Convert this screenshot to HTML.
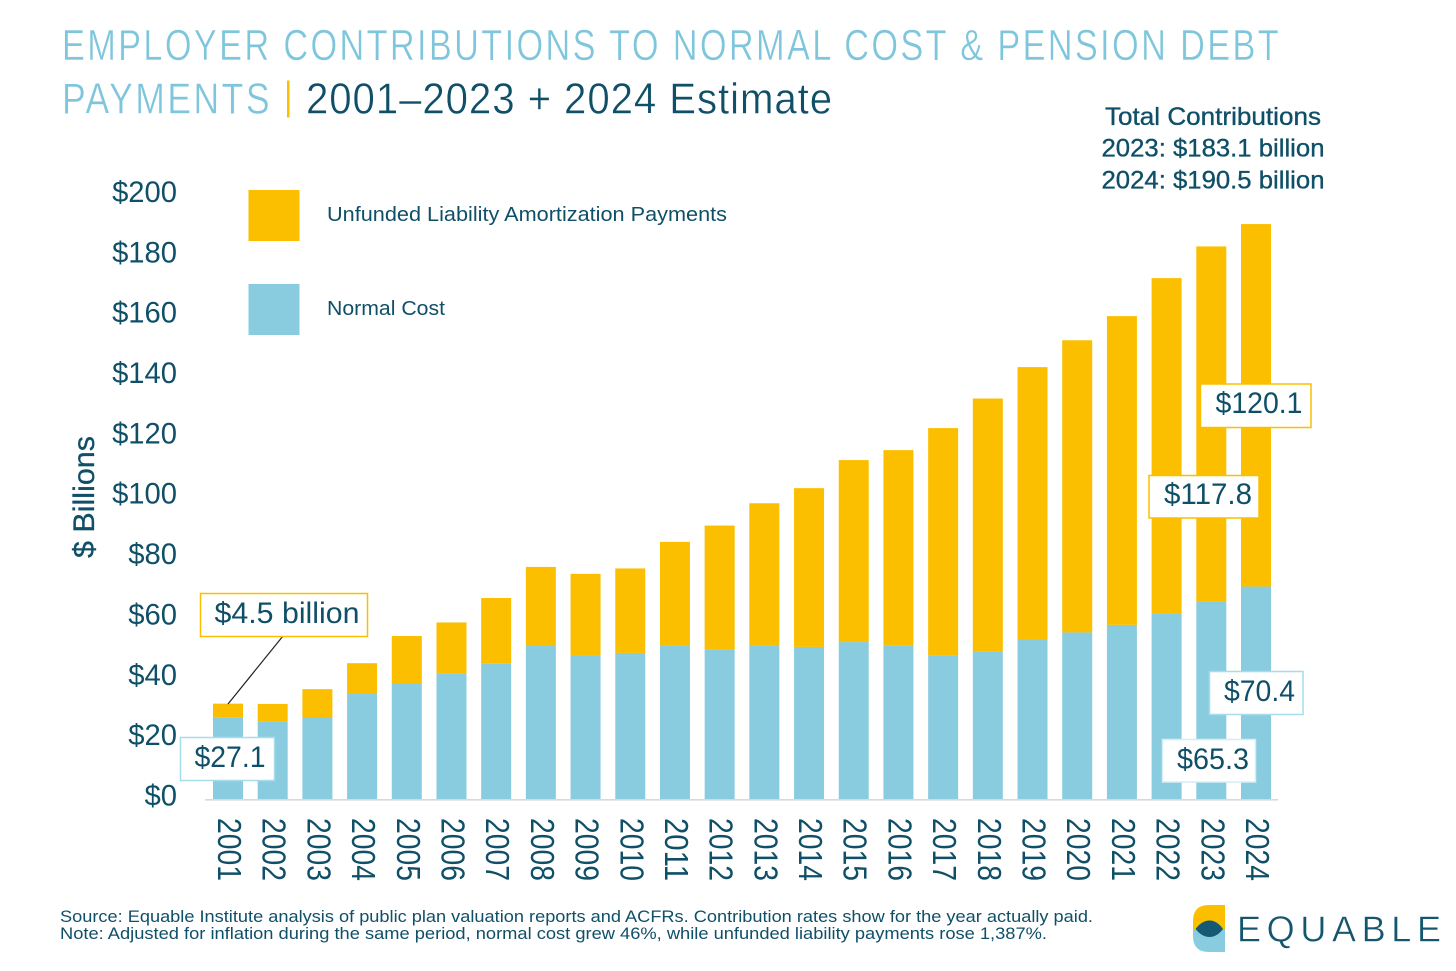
<!DOCTYPE html>
<html lang="en">
<head>
<meta charset="utf-8">
<title>Employer Contributions to Normal Cost and Pension Debt Payments</title>
<style>
html,body{margin:0;padding:0;background:#fff;}
svg{display:block;}
text{font-family:"Liberation Sans",sans-serif;fill:#0f4f68;}
.thin{stroke:#fff;stroke-width:.45;}
</style>
</head>
<body>
<svg id="chart" xmlns="http://www.w3.org/2000/svg" width="1456" height="971" viewBox="0 0 1456 971">
  <rect x="0" y="0" width="1456" height="971" fill="#ffffff"/>

  <g>
    <text class="thin" x="62" y="60" font-size="43.5" letter-spacing="3" textLength="1219" lengthAdjust="spacingAndGlyphs" style="fill:#7fc6dc">EMPLOYER CONTRIBUTIONS TO NORMAL COST &amp; PENSION DEBT</text>
    <text class="thin" x="62" y="113.5" font-size="43.5" letter-spacing="3" textLength="210" lengthAdjust="spacingAndGlyphs" style="fill:#7fc6dc">PAYMENTS</text>
    <rect x="287" y="80.5" width="2.5" height="37" fill="#fbbf00"/>
    <text class="thin" x="306" y="113.5" font-size="43.5" letter-spacing="1" textLength="527" lengthAdjust="spacingAndGlyphs">2001–2023 + 2024 Estimate</text>
  </g>

  <g text-anchor="middle" font-size="25" style="stroke:#0f4f68;stroke-width:.35">
    <text x="1213" y="125" textLength="216" lengthAdjust="spacingAndGlyphs">Total Contributions</text>
    <text x="1213" y="156.5" textLength="223" lengthAdjust="spacingAndGlyphs">2023: $183.1 billion</text>
    <text x="1213" y="188.5" textLength="223" lengthAdjust="spacingAndGlyphs">2024: $190.5 billion</text>
  </g>

  <g>
    <rect x="248.5" y="190" width="51" height="51" fill="#fbbf00"/>
    <text x="327" y="221" font-size="20.5" textLength="400" lengthAdjust="spacingAndGlyphs">Unfunded Liability Amortization Payments</text>
    <rect x="248.5" y="284" width="51" height="51" fill="#8accdf"/>
    <text x="327" y="315" font-size="20.5" textLength="118" lengthAdjust="spacingAndGlyphs">Normal Cost</text>
  </g>

  <text transform="translate(94,497) rotate(-90)" text-anchor="middle" font-size="30" textLength="122" lengthAdjust="spacingAndGlyphs" style="stroke:#0f4f68;stroke-width:.3">$ Billions</text>

  <g id="y-axis"></g>
  <g id="bars"></g>
  <rect x="205" y="799" width="1073" height="1.6" fill="#d9d9d9"/>
  <g id="x-axis"></g>

  <g font-size="30" text-anchor="middle">
    <line x1="283" y1="636" x2="228" y2="704" stroke="#222" stroke-width="1.2"/>
    <g>
      <rect x="200.5" y="593.5" width="167" height="43" fill="#fff" stroke="#fbbf00" stroke-width="1.5"/>
      <text x="287" y="623" textLength="145" lengthAdjust="spacingAndGlyphs">$4.5 billion</text>
    </g>
    <g>
      <rect x="180.5" y="737.5" width="94" height="43" fill="#fff" stroke="#a6dcec" stroke-width="1.5"/>
      <text x="230" y="767" textLength="71" lengthAdjust="spacingAndGlyphs">$27.1</text>
    </g>
    <g>
      <rect x="1200.5" y="384" width="110.5" height="43.5" fill="#fff" stroke="#fbbf00" stroke-width="1.5"/>
      <text x="1259" y="413" textLength="87" lengthAdjust="spacingAndGlyphs">$120.1</text>
    </g>
    <g>
      <rect x="1149" y="475.5" width="110" height="42.5" fill="#fff" stroke="#fbbf00" stroke-width="1.5"/>
      <text x="1208" y="504" textLength="88" lengthAdjust="spacingAndGlyphs">$117.8</text>
    </g>
    <g>
      <rect x="1209.5" y="671.5" width="93.5" height="43" fill="#fff" stroke="#a6dcec" stroke-width="1.5"/>
      <text x="1259.5" y="701" textLength="71" lengthAdjust="spacingAndGlyphs">$70.4</text>
    </g>
    <g>
      <rect x="1162.5" y="739.5" width="93" height="42.5" fill="#fff" stroke="#d5eef6" stroke-width="1.5"/>
      <text x="1213" y="769" textLength="72" lengthAdjust="spacingAndGlyphs">$65.3</text>
    </g>
  </g>

  <g font-size="17">
    <text x="60" y="922" textLength="1033" lengthAdjust="spacingAndGlyphs">Source: Equable Institute analysis of public plan valuation reports and ACFRs. Contribution rates show for the year actually paid.</text>
    <text x="60" y="939" textLength="987" lengthAdjust="spacingAndGlyphs">Note: Adjusted for inflation during the same period, normal cost grew 46%, while unfunded liability payments rose 1,387%.</text>
  </g>

  <g>
    <path d="M1225 905 V930 H1193 V921 Q1193 905 1209 905 Z" fill="#fbbf00"/>
    <path d="M1225 952 H1209 Q1193 952 1193 936 V929 H1225 Z" fill="#8accdf"/>
    <path d="M1195.5 929 Q1202 920.5 1209.5 920.5 Q1217 920.5 1223 929 Q1217 937 1209.5 937 Q1202 937 1195.5 929 Z" fill="#155a72"/>
    <text class="thin" x="1237" y="941.5" font-size="36" textLength="204" lengthAdjust="spacing" style="fill:#15566f">EQUABLE</text>
  </g>
</svg>

<script>
const years = ["2001","2002","2003","2004","2005","2006","2007","2008","2009","2010","2011","2012","2013","2014","2015","2016","2017","2018","2019","2020","2021","2022","2023","2024"];
const normalCost = [27.1,25.8,27.0,34.8,38.1,41.7,45.0,50.7,47.4,48.4,51.0,49.4,51.0,50.4,52.0,50.9,47.5,49.0,53.0,55.2,57.7,61.5,65.3,70.4];
const unfundedPayments = [4.5,5.7,9.4,10.2,15.9,16.8,21.6,26.2,27.2,28.0,34.2,41.2,47.0,52.6,60.3,64.7,75.4,83.7,90.1,96.8,102.3,111.1,117.8,120.1];
const yTickValues = [0,20,40,60,80,100,120,140,160,180,200];
const yTickLabels = ["$0","$20","$40","$60","$80","$100","$120","$140","$160","$180","$200"];

const SVG_NS = "http://www.w3.org/2000/svg";
const xCenter = function (i) { return 228 + i * (1256 - 228) / (years.length - 1); };
const yScale = function (v) { return 799 - v * 3.018; };
const barWidth = 30;

const barsGroup = document.getElementById("bars");
const yAxisGroup = document.getElementById("y-axis");
const xAxisGroup = document.getElementById("x-axis");

years.forEach(function (year, i) {
  const x = xCenter(i) - barWidth / 2;
  const n = normalCost[i];
  const u = unfundedPayments[i];

  const normalBar = document.createElementNS(SVG_NS, "rect");
  
  
  normalBar.setAttribute("x", x);
  normalBar.setAttribute("y", yScale(n));
  normalBar.setAttribute("width", barWidth);
  normalBar.setAttribute("height", yScale(0) - yScale(n));
  normalBar.setAttribute("fill", "#8accdf");
  barsGroup.appendChild(normalBar);

  const unfundedBar = document.createElementNS(SVG_NS, "rect");
  
  
  unfundedBar.setAttribute("x", x);
  unfundedBar.setAttribute("y", yScale(n + u));
  unfundedBar.setAttribute("width", barWidth);
  unfundedBar.setAttribute("height", yScale(n) - yScale(n + u));
  unfundedBar.setAttribute("fill", "#fbbf00");
  barsGroup.appendChild(unfundedBar);

  const yearLabel = document.createElementNS(SVG_NS, "text");
  
  
  yearLabel.setAttribute("transform", "translate(" + (xCenter(i) - 10) + ",818) rotate(90)");
  yearLabel.setAttribute("font-size", "33");
  yearLabel.setAttribute("textLength", "63");
  yearLabel.setAttribute("lengthAdjust", "spacingAndGlyphs");
  yearLabel.textContent = year;
  xAxisGroup.appendChild(yearLabel);
});

yTickValues.forEach(function (v, i) {
  const tick = document.createElementNS(SVG_NS, "text");
  
  
  tick.setAttribute("x", 177);
  tick.setAttribute("y", yScale(v) + 6.5);
  tick.setAttribute("text-anchor", "end");
  tick.setAttribute("font-size", "29.2");
  tick.textContent = yTickLabels[i];
  yAxisGroup.appendChild(tick);
});
</script>
</body>
</html>
